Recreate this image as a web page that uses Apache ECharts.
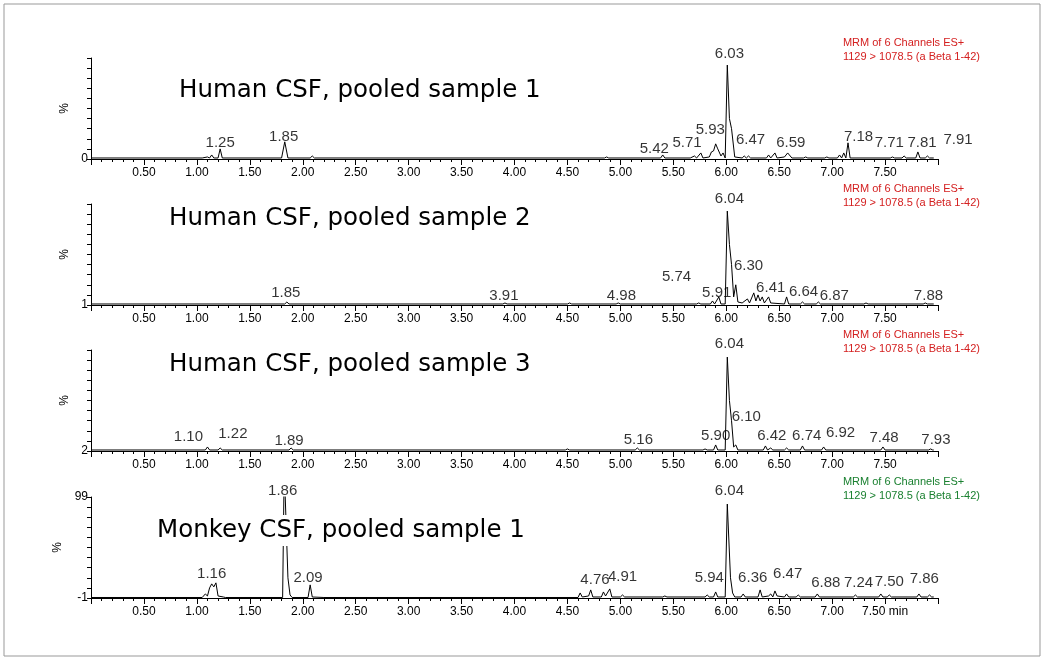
<!DOCTYPE html>
<html><head><meta charset="utf-8">
<script src="https://cdn.jsdelivr.net/npm/echarts@6/dist/echarts.min.js"></script>
<style>html,body{margin:0;padding:0;background:#fff}#c{width:1046px;height:664px}</style>
</head><body><div id="c"></div>
<script>
const titles = ["Human CSF, pooled sample 1","Human CSF, pooled sample 2","Human CSF, pooled sample 3","Monkey CSF, pooled sample 1"];
const baseLabels = ["0","1","2","-1"];
const infoLine1 = "MRM of 6 Channels ES+";
const infoLine2 = ["1129 > 1078.5 (a Beta 1-42)","1129 > 1078.5 (a Beta 1-42)","1129 > 1078.5 (a Beta 1-42)","1129 > 1078.5 (a Beta 1-42)"];
const trace1 = [[0,1],[1.05,1],[1.10,2],[1.12,1],[1.14,4],[1.16,1],[1.20,1],[1.22,10],[1.24,1],[1.80,1],[1.83,17],[1.86,1],[2.07,1],[2.09,3],[2.11,1],[4.85,1],[4.87,2],[4.89,1],[5.38,1],[5.40,4],[5.42,1],[5.66,1],[5.70,3],[5.72,1],[5.76,6],[5.78,1],[5.84,2],[5.86,7],[5.88,8],[5.90,15],[5.92,10],[5.95,3],[5.97,6],[5.99,1],[6.01,93],[6.03,40],[6.05,30],[6.08,2],[6.15,1],[6.17,3],[6.19,1],[6.21,3],[6.23,1],[6.38,1],[6.40,4],[6.42,1],[6.46,6],[6.48,1],[6.55,2],[6.58,6],[6.62,1],[6.73,1],[6.75,2],[6.77,1],[6.93,1],[6.95,2],[6.97,1],[7.05,1],[7.07,4],[7.09,1],[7.11,6],[7.13,1],[7.15,16],[7.17,1],[7.55,1],[7.57,2],[7.59,1],[7.66,1],[7.68,3],[7.70,1],[7.79,1],[7.81,7],[7.83,1],[7.88,1],[7.90,3],[7.92,1],[7.96,1]];
const trace2 = [[0,1],[1.83,1],[1.85,3],[1.87,1],[3.89,1],[3.91,2],[3.93,1],[4.50,1],[4.52,2],[4.54,1],[4.96,1],[4.98,2],[5.00,1],[5.72,1],[5.74,2],[5.76,1],[5.85,1],[5.87,4],[5.89,1],[5.93,8],[5.95,1],[5.99,1],[6.01,93],[6.03,60],[6.05,40],[6.07,8],[6.09,20],[6.11,3],[6.15,2],[6.20,6],[6.22,2],[6.26,12],[6.28,4],[6.30,10],[6.32,4],[6.34,8],[6.36,2],[6.40,8],[6.42,2],[6.55,1],[6.57,8],[6.59,1],[6.70,1],[6.72,3],[6.74,1],[6.85,1],[6.87,3],[6.89,1],[7.30,1],[7.32,2],[7.34,1],[7.86,1],[7.88,2],[7.90,1],[7.96,1]];
const trace3 = [[0,1],[1.08,1],[1.10,4],[1.12,1],[1.20,1],[1.22,3],[1.24,1],[1.87,1],[1.89,3],[1.91,1],[4.48,1],[4.50,2],[4.52,1],[5.14,1],[5.16,3],[5.18,1],[5.78,1],[5.80,2],[5.82,1],[5.88,1],[5.90,6],[5.92,1],[5.99,1],[6.01,93],[6.03,50],[6.05,30],[6.07,4],[6.09,6],[6.11,1],[6.35,1],[6.37,5],[6.39,1],[6.42,3],[6.44,1],[6.55,1],[6.57,3],[6.59,1],[6.70,1],[6.72,5],[6.74,1],[6.90,1],[6.92,4],[6.94,1],[7.46,1],[7.48,4],[7.50,1],[7.91,1],[7.93,2],[7.95,1],[7.96,1]];
const trace4 = [[0,0.5],[1.05,0.5],[1.08,4],[1.10,2],[1.12,10],[1.14,14],[1.16,11],[1.18,15],[1.20,2],[1.25,1],[1.27,0.5],[1.81,0.5],[1.825,130],[1.84,130],[1.86,20],[1.88,3],[1.90,0.5],[2.05,0.5],[2.07,13],[2.09,1],[2.20,0.5],[4.60,0.5],[4.62,5],[4.64,1],[4.70,2],[4.72,8],[4.74,1],[4.82,1],[4.84,6],[4.86,2],[4.90,9],[4.92,1],[5.00,1],[5.02,3],[5.04,1],[5.40,1],[5.42,2],[5.44,1],[5.80,1],[5.82,3],[5.84,1],[5.88,1],[5.90,6],[5.92,1],[5.99,1],[6.01,93],[6.04,20],[6.06,5],[6.08,1],[6.14,1],[6.16,4],[6.18,1],[6.30,1],[6.32,8],[6.34,1],[6.40,2],[6.42,4],[6.44,1],[6.46,7],[6.48,2],[6.55,1],[6.57,4],[6.59,1],[6.66,1],[6.68,3],[6.70,1],[6.84,1],[6.86,4],[6.88,1],[7.20,1],[7.22,3],[7.24,1],[7.44,1],[7.46,4],[7.48,1],[7.52,1],[7.54,3],[7.56,1],[7.80,1],[7.82,4],[7.84,1],[7.90,1],[7.92,3],[7.94,1],[7.96,1]];
const labels1 = [[1.22,16,"1.25"],[1.82,22,"1.85"],[5.32,10,"5.42"],[5.63,16,"5.71"],[5.85,29,"5.93"],[6.03,104,"6.03"],[6.23,19,"6.47"],[6.61,16,"6.59"],[7.25,22,"7.18"],[7.54,16,"7.71"],[7.85,16,"7.81"],[8.19,19,"7.91"]];
const labels2 = [[6.03,105,"6.04"],[1.84,12,"1.85"],[3.90,9,"3.91"],[5.01,9,"4.98"],[5.53,28,"5.74"],[5.91,12,"5.91"],[6.21,39,"6.30"],[6.42,17,"6.41"],[6.73,13,"6.64"],[7.02,9,"6.87"],[7.91,9,"7.88"]];
const labels3 = [[6.03,106,"6.04"],[0.92,14,"1.10"],[1.34,17,"1.22"],[1.87,10,"1.89"],[5.17,11,"5.16"],[5.90,15,"5.90"],[6.19,34,"6.10"],[6.43,15,"6.42"],[6.76,15,"6.74"],[7.08,18,"6.92"],[7.49,13,"7.48"],[7.98,11,"7.93"]];
const labels4 = [[1.81,106,"1.86"],[6.03,106,"6.04"],[1.14,24,"1.16"],[2.05,20,"2.09"],[4.76,18,"4.76"],[5.02,21,"4.91"],[5.84,20,"5.94"],[6.25,20,"6.36"],[6.58,24,"6.47"],[6.94,15,"6.88"],[7.25,15,"7.24"],[7.54,16,"7.50"],[7.87,19,"7.86"]];
const traces=[trace1,trace2,trace3,trace4];
const labelSets=[labels1,labels2,labels3,labels4];
const gridTops=[58,204,350,497];
const titlePos=[[177,75],[167,203],[167,349],[155,515]];
const infoColors=["#d42020","#d42020","#d42020","#1a8030"];
const F="Liberation Sans, Arial, sans-serif";
const grid=[],xAxis=[],yAxis=[],series=[],title=[],graphic=[];
for(let i=0;i<4;i++){
  grid.push({left:91,right:108,top:gridTops[i],height:101});
  xAxis.push({gridIndex:i,type:'value',min:0,max:8,interval:0.5,
    axisLine:{onZero:false,lineStyle:{color:'#000',width:1}},
    axisTick:{length:6,lineStyle:{color:'#000'}},
    minorTick:{show:true,splitNumber:5,length:3,lineStyle:{color:'#000'}},
    splitLine:{show:false},
    axisLabel:{color:'#000',fontFamily:F,fontSize:12,margin:8,
      formatter:v=>(v<=0||v>=8)?'':(i===3&&v===7.5?'7.50 min':v.toFixed(2))}});
  yAxis.push({gridIndex:i,type:'value',min:0,max:100,interval:10,name:'%',nameLocation:'middle',nameGap:16,nameRotate:90,
    nameTextStyle:{color:'#000',fontFamily:F,fontSize:12},
    axisLine:{show:true,lineStyle:{color:'#000'}},axisTick:{length:4,lineStyle:{color:'#000'}},splitLine:{show:false},
    axisLabel:{color:'#000',fontFamily:F,fontSize:12,margin:3,
      formatter:v=>v===0?baseLabels[i]:(i===3&&v===100?'99':'')}});
  series.push({type:'line',xAxisIndex:i,yAxisIndex:i,data:traces[i],symbol:'none',lineStyle:{color:'#000',width:1},z:2});
  series.push({type:'scatter',xAxisIndex:i,yAxisIndex:i,clip:false,symbolSize:0,z:10,
    data:labelSets[i].map(d=>[d[0],d[1],d[2]]),
    label:{show:true,position:'inside',color:'#000',textBorderWidth:0,fontFamily:F,fontSize:15,formatter:p=>p.data[2]}});
  title.push({text:titles[i],left:titlePos[i][0],top:titlePos[i][1],backgroundColor:'#fff',padding:[3,2],
    textStyle:{fontFamily:'DejaVu Sans',fontWeight:'normal',fontSize:24.5,color:'#000'}});
  graphic.push({type:'text',right:66,top:gridTops[i]-22,style:{text:infoLine1+'\n'+infoLine2[i],fill:infoColors[i],font:'11px '+F,align:'right',lineHeight:14}});
}
graphic.push({type:'rect',shape:{x:4,y:4,width:1036,height:652},style:{fill:'none',stroke:'#999',lineWidth:1}});
const chart=echarts.init(document.getElementById('c'));
chart.setOption({animation:false,backgroundColor:'#fff',grid,xAxis,yAxis,series,title,graphic});
</script></body></html>
